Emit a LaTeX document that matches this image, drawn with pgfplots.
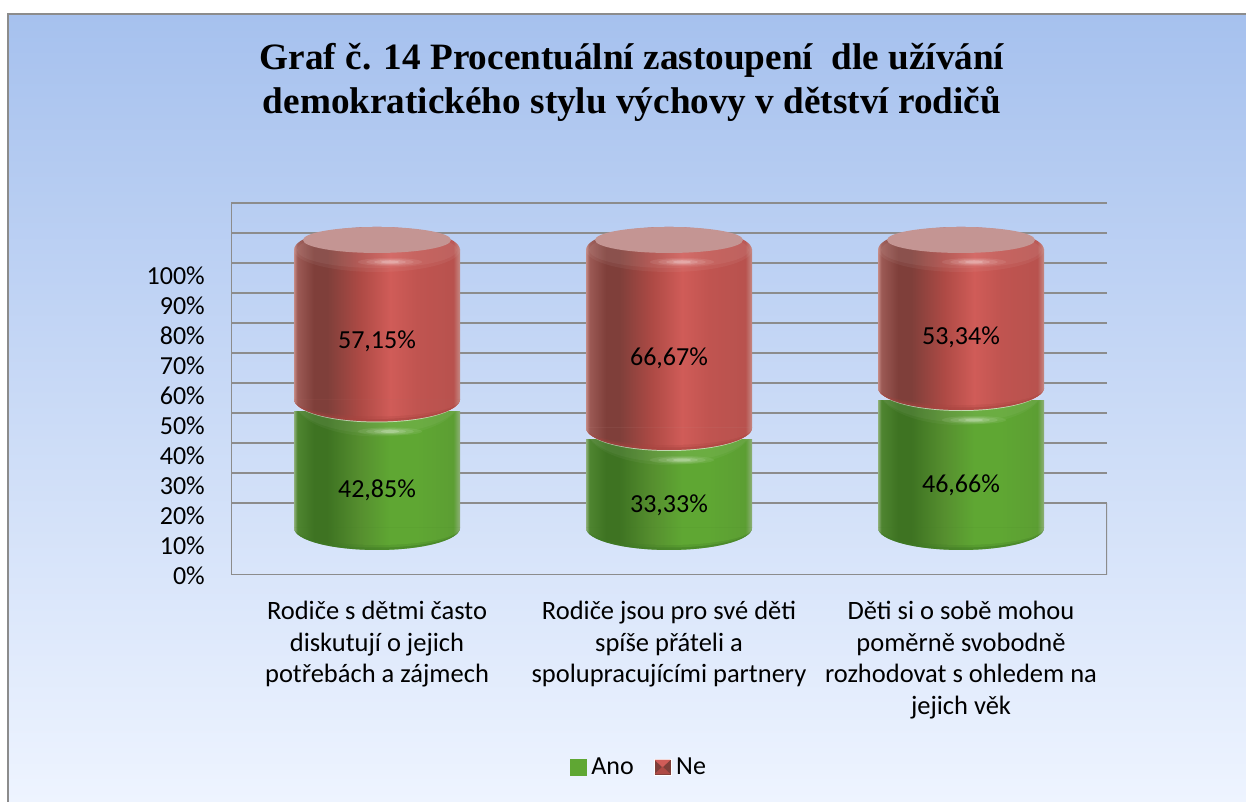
\documentclass[border=0pt]{standalone}
\usepackage{fontspec}
\setmainfont{Carlito}
\newfontfamily\titlefont{Liberation Serif}
\usepackage{pgfplots}
\pgfplotsset{compat=1.18}
\usepackage{pgfplotstable}

\definecolor{framegray}{HTML}{8C8C8C}
\definecolor{r0}{HTML}{C58A85}
\definecolor{r1}{HTML}{9C5A55}
\definecolor{r2}{HTML}{7F3F3A}
\definecolor{r3}{HTML}{AE4A45}
\definecolor{r4}{HTML}{D05C58}
\definecolor{r5}{HTML}{C05450}
\definecolor{r6}{HTML}{B8524E}
\definecolor{g0}{HTML}{8FB07A}
\definecolor{g1}{HTML}{4F8530}
\definecolor{g2}{HTML}{3E7322}
\definecolor{g3}{HTML}{568F2F}
\definecolor{g4}{HTML}{5FA733}
\definecolor{g5}{HTML}{5C9E33}
\definecolor{rcap}{HTML}{C49593}
\definecolor{rdark}{HTML}{A8443F}
\definecolor{gdark}{HTML}{3F7A25}

\pgfdeclarehorizontalshading{redcyl}{100bp}{color(0bp)=(r0); color(25bp)=(r0); color(26bp)=(r1); color(31bp)=(r2);
  color(35bp)=(r2); color(45bp)=(r3); color(54bp)=(r4); color(62bp)=(r5); color(73bp)=(r6); color(75bp)=(r0); color(100bp)=(r0)}
\pgfdeclarehorizontalshading{greencyl}{100bp}{color(0bp)=(g0); color(25bp)=(g0); color(26bp)=(g1); color(31bp)=(g2);
  color(35bp)=(g2); color(45bp)=(g3); color(54bp)=(g4); color(62bp)=(g4); color(73bp)=(g5); color(75bp)=(g0); color(100bp)=(g0)}

% lower half of an ellipse around the mark's point: #1 = half height
\def\halfell#1{(-83pt,0pt) arc[start angle=180,end angle=360,x radius=83pt,y radius=#1] -- cycle}
% soft highlight around (13pt,#1)
\def\glow#1{%
  \fill[white,opacity=.08] (13pt,#1) ellipse (32pt and 4pt);
  \fill[white,opacity=.10] (13pt,#1) ellipse (24pt and 3pt);
  \fill[white,opacity=.14] (13pt,#1) ellipse (16pt and 2.2pt);
  \fill[white,opacity=.20] (13pt,#1) ellipse (9pt and 1.5pt);
}

% caps of the cylinders, as marks
\pgfdeclareplotmark{greenbot}{%
  \path[shading=greencyl] \halfell{22pt};
  \fill[gdark,opacity=.6] \halfell{22pt};
  \path[shading=greencyl,opacity=.6] \halfell{19.5pt};
  \path[shading=greencyl] \halfell{17pt};
}
\pgfdeclareplotmark{redbot}{%
  \fill[white,opacity=.04] \halfell{37pt};
  \fill[white,opacity=.04] \halfell{34pt};
  \glow{-32pt}
  \fill[white,opacity=.6] \halfell{23pt};
  \path[shading=redcyl] \halfell{22pt};
  \fill[rdark,opacity=.6] \halfell{22pt};
  \path[shading=redcyl,opacity=.6] \halfell{19.5pt};
  \path[shading=redcyl] \halfell{17pt};
}
\pgfdeclareplotmark{redtop}{%
  \path[shading=redcyl] (0pt,0pt) ellipse (83pt and 23pt);
  \fill[white,opacity=.05] (0pt,0pt) ellipse (83pt and 22pt);
  \fill[white,opacity=.05] (0pt,0pt) ellipse (80pt and 18pt);
  \fill[rcap] (0pt,10pt) ellipse (74pt and 13pt);
  \glow{-12pt}
}

\pgfplotstableread{
x ano ne
0 42.85 57.15
}\dataa
\pgfplotstableread{
x ano ne
1 33.33 66.67
}\datab
\pgfplotstableread{
x ano ne
2 46.66 53.34
}\datac

% all the axes lie on top of each other: one per cylinder, since a shading
% spreads over all the bars of one plot, and a last one for the caps
\pgfplotsset{cylaxis/.style={
    at={(231pt,227pt)}, anchor=south west,
    scale only axis, width=876pt, height=372pt,
    xmin=-0.5, xmax=2.5, ymin=0, ymax=124,
  },
  baraxis/.style={cylaxis, ybar stacked, bar width=166pt}}
\tikzset{datalabel/.style={font=\fontsize{26}{31}\selectfont, yshift=-1pt}}

% 15.67 is the height of the bottom centre above the floor,
% the red part is flattened at the top in the 3D view
\newcommand{\cylinder}[1]{%
  \addplot[forget plot, draw=none, fill=none] table[x=x, y expr=15.67] {#1};
  \addplot[forget plot, draw=none, shading=greencyl] table[x=x, y expr=\thisrow{ano}-4] {#1};
  \addplot[forget plot, draw=none, fill=none] table[x=x, y expr=4] {#1};
  \addplot[forget plot, draw=none, shading=redcyl] table[x=x, y expr=\thisrow{ne}-7.33] {#1};
}
\newcommand{\caps}[1]{%
  \addplot[forget plot, draw=none, only marks, mark=greenbot] table[x=x, y expr=15.67] {#1};
  \addplot[forget plot, draw=none, only marks, mark=redbot] table[x=x, y expr=15.67+\thisrow{ano}] {#1};
  \addplot[forget plot, draw=none, only marks, mark=redtop] table[x=x, y expr=15.67+\thisrow{ano}+\thisrow{ne}-7.33] {#1};
}

\begin{document}
\begin{tikzpicture}[x=1pt,y=1pt]
  \useasboundingbox (0,0) rectangle (1246,802);
  \shade[top color={rgb,255:red,166;green,193;blue,238}, middle color={rgb,255:red,207;green,223;blue,251},
    bottom color={rgb,255:red,238;green,244;blue,255}] (7,0) rectangle (1246,788);
  \draw[framegray,line width=2.5pt] (8,0) -- (8,788) -- (1246,788);
  \begin{axis}[
    baraxis,
    axis line style={draw=none},
    major tick length=0pt,
    xtick={0,1,2},
    xticklabels={Rodiče s dětmi často\\diskutují o jejich\\potřebách a zájmech,
      Rodiče jsou pro své děti\\spíše přáteli a\\spolupracujícími partnery,
      Děti si o sobě mohou\\poměrně svobodně\\rozhodovat s ohledem na\\jejich věk},
    xticklabel style={font=\fontsize{26.5}{31.5}\selectfont, align=center, anchor=north, yshift=-23pt},
    ytick={0,10,...,100},
    yticklabels={0\%,10\%,20\%,30\%,40\%,50\%,60\%,70\%,80\%,90\%,100\%},
    yticklabel style={font=\fontsize{26}{31}\selectfont, anchor=east, inner sep=0pt, xshift=-26pt, yshift=-1pt},
    extra y ticks={24,34,44,54,64,74,84,94,104,114,124},
    extra y tick labels={},
    extra y tick style={grid=major, major grid style={framegray,line width=2.2pt}},
    title={Graf č. 14 Procentuální zastoupení\ \ dle užívání\\demokratického stylu výchovy v dětství rodičů},
    title style={font=\titlefont\bfseries\fontsize{37.2}{44}\selectfont, align=center, at={(0.4578,1.3085)}, anchor=center},
    legend style={at={(0.4657,-0.516)}, anchor=center, draw=none, fill=none, legend columns=2,
      font=\fontsize{26}{31}\selectfont,
      /tikz/every odd column/.append style={column sep=3pt},
      /tikz/every even column/.append style={column sep=18pt}},
  ]
    \addlegendimage{legend image code/.code={\fill[g4] (0pt,-8pt) rectangle (16pt,8pt);}}
    \addlegendentry{Ano}
    \addlegendimage{legend image code/.code={
      \fill[white] (-1pt,-8pt) rectangle (16pt,8pt);
      \fill[r2] (0pt,-7pt) rectangle (15pt,7pt);
      \fill[r4] (0pt,7pt) -- (15pt,7pt) -- (7.5pt,0pt) -- cycle;
      \fill[r3] (0pt,-7pt) -- (15pt,-7pt) -- (7.5pt,0pt) -- cycle;}}
    \addlegendentry{Ne}
    \cylinder{\dataa}
    \draw[framegray,line width=2.2pt] (axis cs:-0.5,124) -- (axis cs:-0.5,0) -- (axis cs:2.5,0) -- (axis cs:2.5,24);
  \end{axis}
  \begin{axis}[baraxis, hide axis]
    \cylinder{\datab}
  \end{axis}
  \begin{axis}[baraxis, hide axis]
    \cylinder{\datac}
  \end{axis}
  \begin{axis}[cylaxis, hide axis]
    \caps{\dataa}
    \caps{\datab}
    \caps{\datac}
    \node[datalabel] at (axis cs:0,28.67) {42,85\%};
    \node[datalabel] at (axis cs:0,78.33) {57,15\%};
    \node[datalabel] at (axis cs:1,23.67) {33,33\%};
    \node[datalabel] at (axis cs:1,72.67) {66,67\%};
    \node[datalabel] at (axis cs:2,30.33) {46,66\%};
    \node[datalabel] at (axis cs:2,79.67) {53,34\%};
  \end{axis}
\end{tikzpicture}
\end{document}
